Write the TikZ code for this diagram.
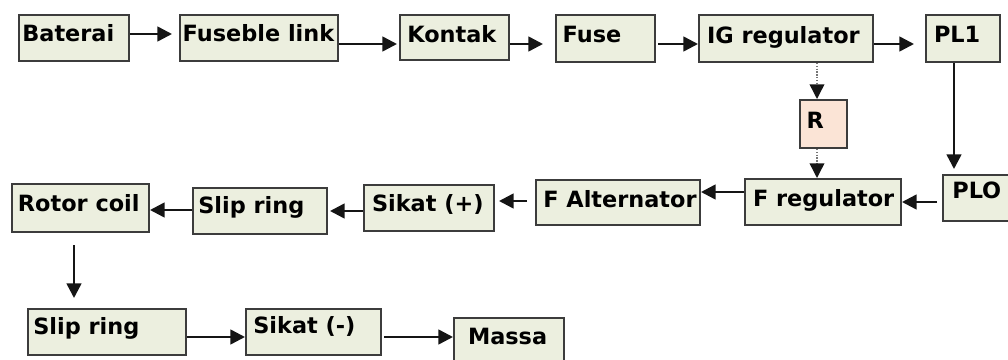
\documentclass[tikz,border=0pt]{standalone}
\usepackage{fontspec}
\setmainfont{DejaVu Sans}
\usetikzlibrary{arrows.meta}
\definecolor{boxc}{HTML}{ECEFDF}
\definecolor{rboxc}{HTML}{FBE4D6}
\definecolor{linec}{HTML}{3C3C3C}
\definecolor{arrc}{HTML}{151515}
\newcommand\boxlabel[3]{\makebox[#1][l]{\hspace*{#2}#3}}
\tikzset{
  blk/.style 2 args={draw=linec, fill=boxc, line width=1.5pt, anchor=north west,
    inner sep=0pt, text height=#1, text depth=#2,
    font=\fontsize{16.8}{18}\selectfont\bfseries},
  arr/.style={draw=arrc, line width=1.9pt, -{Triangle[length=11pt,width=11pt]}},
  dotarr/.style={draw=linec!70, line width=1.1pt, densely dotted,
    -{Triangle[length=11pt,width=11pt,color=arrc]}},
}
\begin{document}
\begin{tikzpicture}[x=0.75pt,y=-0.75pt]
\useasboundingbox (0,0) rectangle (1008,360);
\clip (0,0) rectangle (1008,360);
% row 1
\node[blk={20.25pt}{14.25pt}] (bat) at (18,14) {\boxlabel{82.5pt}{2.5pt}{Baterai}};
\node[blk={20.25pt}{14.25pt}] (fus) at (179,14) {\boxlabel{118.5pt}{2pt}{Fuseble link}};
\node[blk={21pt}{12.75pt}] (kon) at (399,14) {\boxlabel{81.75pt}{5.5pt}{Kontak}};
\node[blk={21pt}{14.25pt}] (fuse) at (555,14) {\boxlabel{74.25pt}{5pt}{Fuse}};
\node[blk={21.75pt}{13.5pt}] (ig) at (698,14) {\boxlabel{130.5pt}{6pt}{IG regulator}};
\node[blk={21pt}{14.25pt}] (pl1) at (925,14) {\boxlabel{55.5pt}{6pt}{PL1}};
% R
\node[blk={21pt}{15pt}, fill=rboxc] (R) at (799,99) {\boxlabel{35.25pt}{5pt}{R}};
% row 2
\node[blk={18pt}{16.5pt}] (plo) at (942,174) {\boxlabel{60pt}{7pt}{PLO}};
\node[blk={20.25pt}{14.25pt}] (freg) at (744,178) {\boxlabel{117pt}{6pt}{F regulator}};
\node[blk={20.25pt}{13.5pt}] (falt) at (535,179) {\boxlabel{123pt}{5.5pt}{F Alternator}};
\node[blk={19.5pt}{15pt}] (sikp) at (363,184) {\boxlabel{97.5pt}{6pt}{Sikat (+)}};
\node[blk={19.5pt}{15pt}] (slip) at (192,187) {\boxlabel{100.5pt}{4pt}{Slip ring}};
\node[blk={20.25pt}{15.75pt}] (rotor) at (11,183) {\boxlabel{102.75pt}{4.5pt}{Rotor coil}};
% row 3
\node[blk={18.75pt}{15.75pt}] (slip2) at (27,308) {\boxlabel{118.5pt}{4pt}{Slip ring}};
\node[blk={18pt}{16.5pt}] (sikm) at (245,308) {\boxlabel{101.25pt}{5.5pt}{Sikat (-)}};
\node[blk={19.5pt}{18pt}] (massa) at (453,317) {\boxlabel{82.5pt}{10.5pt}{Massa}};
% helper coordinates
\coordinate (rn) at ([xshift=-4.875pt]R.north);
\coordinate (rs) at ([xshift=-4.875pt]R.south);
\coordinate (ps) at ([xshift=-6.75pt]pl1.south);
\coordinate (rb) at ([xshift=-4.875pt]rotor.south);
% connectors row 1
\draw[arr, shorten >=5.25pt] ([yshift=3pt]bat.east) -- ([yshift=3pt]fus.west);
\draw[arr, shorten >=1.5pt] ([yshift=-4.5pt]fus.east) -- ([yshift=-4.875pt]kon.west);
\draw[arr, shorten >=9pt] ([yshift=-4.875pt]kon.east) -- ([yshift=-4.125pt]fuse.west);
\draw[arr, shorten <=1.5pt] ([yshift=-4.125pt]fuse.east) -- ([yshift=-4.125pt]ig.west);
\draw[arr, shorten >=8.25pt] ([yshift=-4.125pt]ig.east) -- ([yshift=-4.125pt]pl1.west);
% R
\draw[dotarr] (ig.south -| rn) -- (rn);
\draw[dotarr] (rs) -- (freg.north -| rs);
% PL1 to PLO
\draw[arr, shorten >=3.75pt] (ps) -- (plo.north -| ps);
% row 2
\draw[arr, shorten <=3.75pt] (plo.west |- freg.east) -- (freg.east);
\draw[arr] ([yshift=7.5pt]freg.west) -- ([yshift=7.875pt]falt.east);
\draw[arr, shorten <=6pt, shorten >=3pt] ([yshift=1.125pt]falt.west) -- ([yshift=5.25pt]sikp.east);
\draw[arr, shorten >=1.5pt] ([yshift=-2.25pt]sikp.west) -- (slip.east);
\draw[arr] ([yshift=0.75pt]slip.west) -- ([yshift=-1.5pt]rotor.east);
% down to row 3
\draw[arr, shorten <=9pt, shorten >=7.5pt] (rb) -- (slip2.north -| rb);
\draw[arr] ([yshift=-3.75pt]slip2.east) -- ([yshift=-3.75pt]sikm.west);
\draw[arr, shorten <=1.5pt] ([yshift=-3.75pt]sikm.east) -- ([yshift=4.5pt]massa.west);
\end{tikzpicture}
\end{document}
